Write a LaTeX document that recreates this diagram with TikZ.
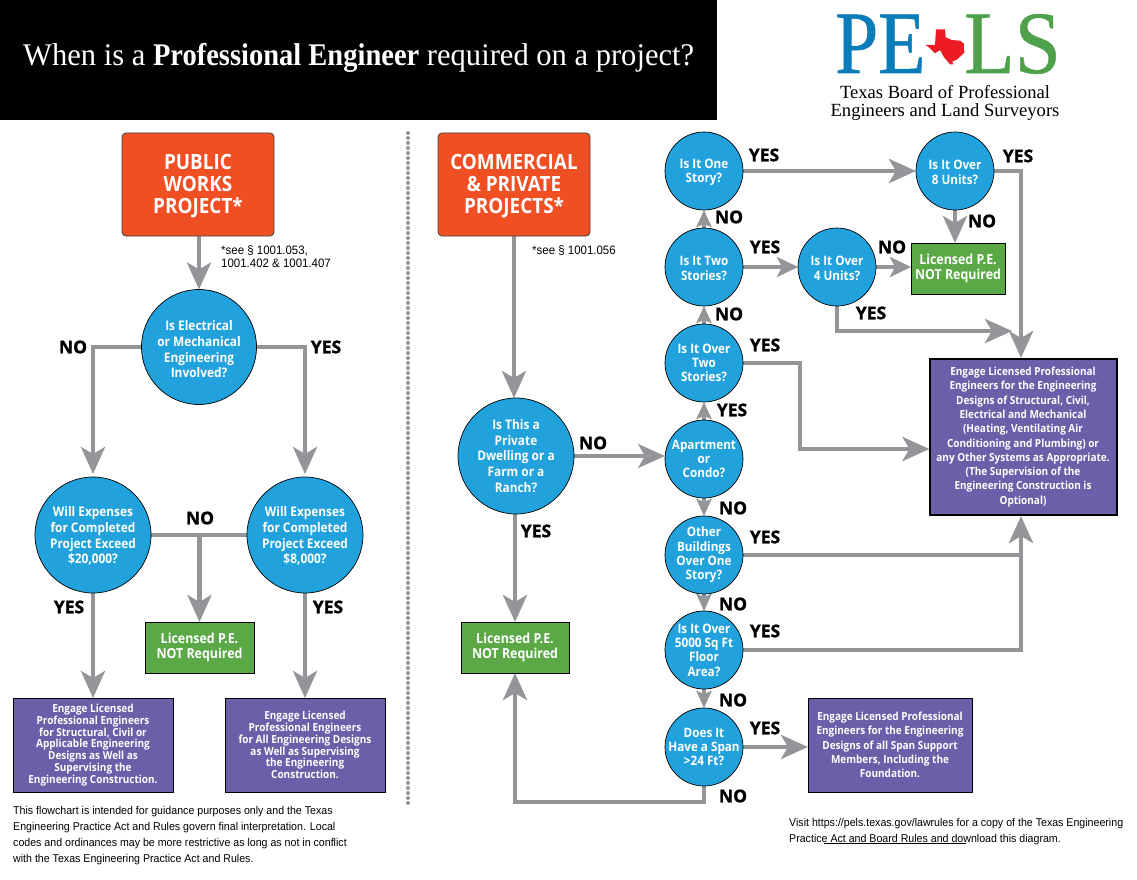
\documentclass[tikz,border=0pt]{standalone}
\usepackage{fontspec}
\usetikzlibrary{arrows.meta,calc}
\setmainfont{Open Sans}
\newfontfamily\boldf[FakeStretch=0.9]{Open Sans Bold}
\newfontfamily\labf[FakeBold=1.2]{Open Sans Bold}
\newfontfamily\smallf[FakeStretch=0.94]{Liberation Sans}
\newfontfamily\titlef[FakeStretch=0.97]{Liberation Serif}
\newfontfamily\titleb[FakeStretch=0.905]{Liberation Serif Bold}
\newfontfamily\logof[FakeStretch=0.87,FakeBold=0.6]{Liberation Serif}
\newfontfamily\logog[FakeStretch=0.93,FakeBold=0.6]{Liberation Serif}
\newfontfamily\logot{Liberation Serif}
\definecolor{cblue}{HTML}{21A2DC}
\definecolor{cgreen}{HTML}{5BA846}
\definecolor{cpurple}{HTML}{6A5FA9}
\definecolor{cred}{HTML}{F04E23}
\definecolor{cgray}{HTML}{939598}
\definecolor{logoblue}{HTML}{0A7DB8}
\definecolor{logogreen}{HTML}{4FA04A}
\definecolor{texred}{HTML}{ED1C24}
\pgfdeclarelayer{bg}
\pgfsetlayers{bg,main}
\tikzset{
  x=1pt,y=-1pt,
  qsmall/.style={circle,draw=black,line width=0.7pt,fill=cblue,text=white,minimum size=78pt,inner sep=-10pt,outer sep=0pt,align=center,font=\boldf\fontsize{13}{14.3}\selectfont},
  qbig/.style={qsmall,minimum size=116pt,font=\boldf\fontsize{13.2}{15.7}\selectfont},
  startbox/.style={rectangle,rounded corners=4pt,draw=black!75,line width=0.8pt,fill=cred,text=white,minimum width=152pt,minimum height=103pt,inner sep=0pt,outer sep=0pt,align=center,font=\boldf\fontsize{21}{22}\selectfont},
  greenbox/.style={rectangle,draw=black,line width=0.8pt,fill=cgreen,text=white,inner sep=0pt,outer sep=0pt,align=center,font=\boldf\fontsize{13.8}{15.5}\selectfont},
  purplebox/.style={rectangle,draw=black,line width=1pt,fill=cpurple,text=white,minimum width=160pt,minimum height=94pt,inner sep=0pt,outer sep=0pt,align=center,font=\boldf\fontsize{11.1}{11.8}\selectfont},
  arr/.style={draw=cgray,line width=4.7pt,-{Stealth[length=27pt,width=24pt,inset=7pt]}},
  arrm/.style={draw=cgray,line width=4.7pt,-{Stealth[length=21pt,width=20pt,inset=5pt]}},
  arrs/.style={draw=cgray,line width=4.7pt,-{Stealth[length=17pt,width=15pt,inset=3pt]}},
  plain/.style={draw=cgray,line width=4.7pt},
  lab/.style={inner sep=0pt,font=\labf\fontsize{17.5}{17.5}\selectfont,text=black},
  note/.style={inner sep=0pt,anchor=north west,align=left,font=\smallf\fontsize{11.3}{16}\selectfont,text=black}
}
\begin{document}
\begin{tikzpicture}
\useasboundingbox (0,0) rectangle (1137,880);
\begin{pgfonlayer}{bg}
\fill[white] (0,0) rectangle (1137,880);
\end{pgfonlayer}
% header
\node[rectangle,fill=black,minimum width=717pt,minimum height=120pt,inner sep=0pt,outer sep=0pt,anchor=north west] (banner) at (0,0) {};
\node[text=white,anchor=base west,inner sep=0pt,font=\titlef\fontsize{31.5}{34}\selectfont] (title) at (23,66) {When is a {\titleb Professional Engineer} required on a project?};
% logo
\node[text=logoblue,anchor=base west,inner sep=0pt,text depth=0pt,font=\logof\fontsize{89}{89}\selectfont] (logope) at (835,73) {PE};
\node[text=logogreen,anchor=base west,inner sep=0pt,text depth=0pt,font=\logog\fontsize{89}{89}\selectfont] (logols) at (964,73) {LS};
\fill[texred] (936,29.3)--(945,29.3)--(945.7,37.3)--(951.7,40)--(960,40.7)--(963.7,43.3)--(964.3,52.7)--(957.3,59.3)--(952.3,61.7)--(953.3,64.3)--(950,64.3)--(944,57.3)--(940,50)--(935,53.3)--(930,48.3)--(925.7,45)--(935,45)--cycle;
\node[text=black,inner sep=0pt,align=center,font=\logot\fontsize{18.6}{18}\selectfont] (logotxt) at (945,103) {Texas Board of Professional\\Engineers and Land Surveyors};
% divider
\coordinate (divtop) at (408,133);
\coordinate (divbot) at (408,806);
\draw[cgray,line width=4pt,line cap=round,dash pattern=on 0pt off 5pt] (divtop)--(divbot);
% left column
\node[startbox] (pub) at (198,184.5) {\rule{0pt}{18pt}PUBLIC\\WORKS\\PROJECT*};
\node[qbig,minimum size=115pt] (elec) at (199,347) {\rule{0pt}{15pt}Is Electrical\\or Mechanical\\Engineering\\Involved?};
\node[qbig] (wl) at (93,535) {\rule{0pt}{12.5pt}Will Expenses\\for Completed\\Project Exceed\\\$20,000?};
\node[qbig] (wr) at (305,535) {\rule{0pt}{12.5pt}Will Expenses\\for Completed\\Project Exceed\\\$8,000?};
\node[greenbox,minimum width=109pt,minimum height=51pt] (gl) at (199.5,647.5) {Licensed P.E.\\NOT Required};
\node[purplebox] (pl) at (93,745) {Engage Licensed\\Professional Engineers\\for Structural, Civil or\\Applicable Engineering\\Designs as Well as\\Supervising the\\Engineering Construction.};
\node[purplebox] (pr) at (305,745) {Engage Licensed\\Professional Engineers\\for All Engineering Designs\\as Well as Supervising\\the Engineering\\Construction.};
% right column
\node[startbox] (com) at (514,184.5) {\rule{0pt}{18pt}COMMERCIAL\\\& PRIVATE\\PROJECTS*};
\node[qbig] (priv) at (516,456) {Is This a\\Private\\Dwelling or a\\Farm or a\\Ranch?};
\node[greenbox,minimum width=108pt,minimum height=51pt] (gm) at (515,647.5) {Licensed P.E.\\NOT Required};
\node[qsmall] (one) at (704,171) {\rule{0pt}{12pt}Is It One\\Story?};
\node[qsmall] (two) at (704,267) {\rule{0pt}{12pt}Is It Two\\Stories?};
\node[qsmall] (ovt) at (704,363) {Is It Over\\Two\\Stories?};
\node[qsmall] (apt) at (704,459) {Apartment\\or\\Condo?};
\node[qsmall] (oth) at (704,555) {Other\\Buildings\\Over One\\Story?};
\node[qsmall] (sqf) at (704,650) {Is It Over\\5000 Sq Ft\\Floor\\Area?};
\node[qsmall] (spn) at (704,747) {Does It\\Have a Span\\>24 Ft?};
\node[qsmall] (eig) at (955,171) {\rule{0pt}{12pt}Is It Over\\8 Units?};
\node[qsmall] (fou) at (837,267) {\rule{0pt}{12pt}Is It Over\\4 Units?};
\node[greenbox,minimum width=94pt,minimum height=51pt] (gt) at (958,268.5) {Licensed P.E.\\NOT Required};
\node[purplebox,line width=2pt,minimum width=187pt,minimum height=156pt,font=\boldf\fontsize{11.1}{14.3}\selectfont] (pb) at (1023,437) {Engage Licensed Professional\\Engineers for the Engineering\\Designs of Structural, Civil,\\Electrical and Mechanical\\(Heating, Ventilating Air\\Conditioning and Plumbing) or\\any Other Systems as Appropriate.\\(The Supervision of the\\Engineering Construction is\\Optional)};
\node[purplebox,minimum width=164pt,font=\boldf\fontsize{11.1}{14.2}\selectfont] (ps) at (890,745) {Engage Licensed Professional\\Engineers for the Engineering\\Designs of all Span Support\\Members, Including the\\Foundation.};
% connectors
\coordinate (fre) at (1012,331);
\coordinate (spnb) at (704,802);
\coordinate (eigc) at (1021,171);
\coordinate (pbt) at (1021,358);
\coordinate (pbb) at (1021,516);
\coordinate (othc) at (1021,555);
\coordinate (sqfc) at (1021,650);
\coordinate (ovc) at (800,363);
\coordinate (ovd) at (800,449);
\begin{pgfonlayer}{bg}
\draw[arr] (pub.south -| elec) -- (elec.north);
\draw[arr] (elec.west) -| ($(wl.north)+(0,-3)$);
\draw[arr] (elec.east) -| ($(wr.north)+(0,-3)$);
\draw[plain] (wl.east) -- (wr.west);
\draw[arr] (wl.east -| gl) -- (gl.north);
\draw[arr] (wl.south) -- (pl.north);
\draw[arr] (wr.south) -- (pr.north);
\draw[arr] (com.south) -- (com.south |- priv.north);
\draw[arr] (priv.south -| gm) -- (gm.north);
\draw[arr] (priv.east) -- (apt.west |- priv.east);
\draw[arr] (spn.south) -- (spnb) -| (gm.south);
\draw[arr] (spn.east) -- (spn.east -| ps.west);
\draw[arrs] (apt.north) -- (ovt.south);
\draw[arrs] (ovt.north) -- (two.south);
\draw[arrs] (two.north) -- (one.south);
\draw[arrs] (apt.south) -- (oth.north);
\draw[arrs] (oth.south) -- (sqf.north);
\draw[arrs] (sqf.south) -- (spn.north);
\draw[arr] (one.east) -- (eig.west);
\draw[arr] (eig.south) -- (eig.south |- gt.north);
\draw[arrm] (two.east) -- (fou.west);
\draw[arrm] (fou.east) -- (gt.west |- fou.east);
\draw[arr] (fou.south) |- (fre);
\draw[arr] (eig.east) -- (eigc) -- (pbt);
\draw[arr] (ovt.east) -- (ovc) -- (ovd) -- (ovd -| pb.west);
\draw[plain] (oth.east) -- (othc);
\draw[arr] (sqf.east) -- (sqfc) -- (pbb);
\end{pgfonlayer}
% labels
\node[lab] (l1) at (73,347) {NO};
\node[lab] (l2) at (326,347) {YES};
\node[lab] (l3) at (200,518) {NO};
\node[lab] (l4) at (69,607) {YES};
\node[lab] (l5) at (328,607) {YES};
\node[lab] (l6) at (536,531) {YES};
\node[lab] (l7) at (593,443) {NO};
\node[lab] (l8) at (764,155) {YES};
\node[lab] (l9) at (729,217) {NO};
\node[lab] (l10) at (765,247) {YES};
\node[lab] (l11) at (729,314) {NO};
\node[lab] (l12) at (765,345) {YES};
\node[lab] (l13) at (732,410) {YES};
\node[lab] (l14) at (733,508) {NO};
\node[lab] (l15) at (765,537) {YES};
\node[lab] (l16) at (733,604) {NO};
\node[lab] (l17) at (765,631) {YES};
\node[lab] (l18) at (733,700) {NO};
\node[lab] (l19) at (765,728) {YES};
\node[lab] (l20) at (733,796) {NO};
\node[lab] (l21) at (1018,156) {YES};
\node[lab] (l22) at (982,221) {NO};
\node[lab] (l23) at (892,247) {NO};
\node[lab] (l24) at (871,313) {YES};
% notes
\node[note,font=\smallf\fontsize{12.2}{13.5}\selectfont] (n1) at (221,245) {*see § 1001.053,\\1001.402 \& 1001.407};
\node[note,font=\smallf\fontsize{12.2}{13.5}\selectfont] (n2) at (532,245) {*see § 1001.056};
\node[note] (n3) at (13,806) {This flowchart is intended for guidance purposes only and the Texas\\Engineering Practice Act and Rules govern final interpretation. Local\\codes and ordinances may be more restrictive as long as not in conflict\\with the Texas Engineering Practice Act and Rules.};
\node[note] (n4) at (789,818) {Visit https://pels.texas.gov/lawrules for a copy of the Texas Engineering\\Practice Act and Board Rules and download this diagram.};
\draw[black,line width=0.6pt] (824,843.5) -- (966,843.5);
\end{tikzpicture}
\end{document}
